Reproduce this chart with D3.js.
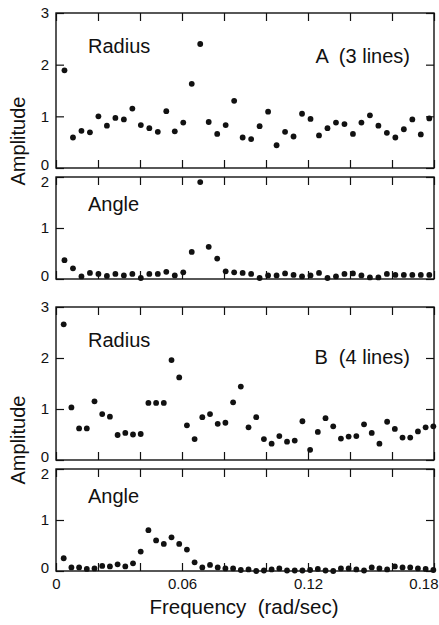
<!DOCTYPE html>
<html>
<head>
<meta charset="utf-8">
<script src="https://cdn.jsdelivr.net/npm/d3@7"></script>
<style>
  html, body { margin: 0; padding: 0; background: #fff; }
  svg { display: block; font-family: "Liberation Sans", Arial, Helvetica, sans-serif; }
  .tick text { font-size: 15px; fill: #111; }
  .tick line { stroke: #111; stroke-width: 1.2; }
</style>
</head>
<body>
<svg id="chart" width="439" height="625"></svg>
<script>
  "use strict";

  // ---- data ----
  // Frequency bin spacing (rad/sec) for each record
  const STEP_A = 0.00404;
  const STEP_B = 0.003667;

  const radiusA = [1.89, 0.59, 0.72, 0.69, 1.0, 0.82, 0.97, 0.94, 1.15, 0.83, 0.77,
    0.70, 1.10, 0.71, 0.88, 1.63, 2.40, 0.89, 0.66, 0.83, 1.30, 0.59, 0.56, 0.81,
    1.09, 0.44, 0.70, 0.61, 1.05, 0.95, 0.63, 0.77, 0.88, 0.85, 0.66, 0.88, 1.02,
    0.82, 0.68, 0.59, 0.75, 0.94, 0.65, 0.96];

  const angleA = [0.37, 0.21, 0.05, 0.12, 0.10, 0.06, 0.10, 0.07, 0.10, 0.02, 0.10,
    0.10, 0.14, 0.07, 0.13, 0.53, 1.90, 0.63, 0.40, 0.15, 0.13, 0.12, 0.10, 0.02,
    0.07, 0.07, 0.11, 0.08, 0.05, 0.07, 0.12, 0.02, 0.05, 0.10, 0.11, 0.07, 0.03,
    0.03, 0.10, 0.08, 0.08, 0.08, 0.08, 0.08];

  const radiusB = [2.66, 1.03, 0.62, 0.62, 1.15, 0.90, 0.85, 0.49, 0.53, 0.50, 0.51,
    1.12, 1.12, 1.12, 1.96, 1.62, 0.68, 0.41, 0.84, 0.90, 0.71, 0.73, 1.13, 1.44,
    0.64, 0.84, 0.41, 0.32, 0.47, 0.36, 0.38, 0.76, 0.20, 0.55, 0.82, 0.66, 0.42,
    0.46, 0.47, 0.70, 0.53, 0.32, 0.75, 0.61, 0.44, 0.44, 0.56, 0.64, 0.66];

  const angleB = [0.25, 0.07, 0.07, 0.04, 0.05, 0.10, 0.09, 0.13, 0.09, 0.15, 0.38,
    0.80, 0.60, 0.53, 0.66, 0.53, 0.42, 0.17, 0.07, 0.12, 0.07, 0.05, 0.05, 0.02,
    0.03, 0.00, 0.01, 0.03, 0.05, 0.01, 0.01, 0.01, 0.02, 0.04, 0.01, 0.00, 0.05,
    0.05, 0.03, 0.01, 0.07, 0.05, 0.03, 0.09, 0.07, 0.07, 0.05, 0.04, 0.02];

  const xTicks = [0, 0.02, 0.04, 0.06, 0.08, 0.10, 0.12, 0.14, 0.16, 0.18];
  const xLabelled = [0, 0.06, 0.12, 0.18];

  // ---- layout ----
  const X0 = 56, X1 = 434;
  const TICK = 8;

  const panels = [
    { values: radiusA, step: STEP_A, ymax: 3, top: 13, bottom: 168, name: "Radius", nameY: 53, tag: "A  (3 lines)", tagY: 63 },
    { values: angleA, step: STEP_A, ymax: 2, top: 177, bottom: 279, name: "Angle", nameY: 211 },
    { values: radiusB, step: STEP_B, ymax: 3, top: 307, bottom: 460, name: "Radius", nameY: 347, tag: "B  (4 lines)", tagY: 364 },
    { values: angleB, step: STEP_B, ymax: 2, top: 469, bottom: 571, name: "Angle", nameY: 503, xLabels: true }
  ];

  const svg = d3.select("#chart");
  const x = d3.scaleLinear().domain([0, 0.18]).range([X0, X1]);

  function fmtX(v) {
    const hit = xLabelled.find((l) => Math.abs(l - v) < 1e-9);
    if (hit === undefined) return "";
    return hit === 0 ? "0" : hit.toFixed(2);
  }

  panels.forEach((p) => {
    const y = d3.scaleLinear().domain([0, p.ymax]).range([p.bottom, p.top]);
    const yTicks = d3.range(0, p.ymax + 1);
    const g = svg.append("g");

    // inward ticks on all four sides
    g.append("g")
      .attr("transform", `translate(0,${p.top})`)
      .call(d3.axisTop(x).tickValues(xTicks).tickSizeInner(-TICK).tickSizeOuter(0).tickFormat(""))
      .call((a) => a.select(".domain").remove());

    const bottom = g.append("g")
      .attr("transform", `translate(0,${p.bottom})`)
      .call(d3.axisBottom(x).tickValues(xTicks).tickSizeInner(-TICK).tickSizeOuter(0)
        .tickPadding(7).tickFormat(p.xLabels ? fmtX : () => ""))
      .call((a) => a.select(".domain").remove());
    // last label sits flush against the right edge, as in the original
    bottom.selectAll(".tick text")
      .filter((d) => Math.abs(d - 0.18) < 1e-9)
      .attr("text-anchor", "end")
      .attr("x", 4);

    const left = g.append("g")
      .attr("transform", `translate(${X0},0)`)
      .call(d3.axisLeft(y).tickValues(yTicks).tickSizeInner(-TICK).tickSizeOuter(0)
        .tickPadding(7).tickFormat(d3.format("d")))
      .call((a) => a.select(".domain").remove());
    // nudge end labels apart where two panels meet
    left.selectAll(".tick text")
      .attr("dy", (d) => (d === p.ymax && p.ymax === 2 ? "0.62em" : d === 0 ? "0.1em" : "0.32em"));

    g.append("g")
      .attr("transform", `translate(${X1},0)`)
      .call(d3.axisRight(y).tickValues(yTicks).tickSizeInner(-TICK).tickSizeOuter(0).tickFormat(""))
      .call((a) => a.select(".domain").remove());

    // frame
    g.append("rect")
      .attr("x", X0).attr("y", p.top)
      .attr("width", X1 - X0).attr("height", p.bottom - p.top)
      .attr("fill", "none").attr("stroke", "#111").attr("stroke-width", 1.4);

    // points
    g.append("g")
      .selectAll("circle")
      .data(p.values)
      .join("circle")
      .attr("cx", (d, i) => x((i + 1) * p.step))
      .attr("cy", (d) => y(d))
      .attr("r", 2.9)
      .attr("fill", "#111");

    g.append("text")
      .attr("x", 88).attr("y", p.nameY)
      .attr("font-size", 20).attr("fill", "#111")
      .text(p.name);

    if (p.tag) {
      g.append("text")
        .attr("x", 410).attr("y", p.tagY)
        .attr("text-anchor", "end")
        .attr("font-size", 20).attr("fill", "#111")
        .style("white-space", "pre")
        .text(p.tag);
    }
  });

  // axis titles
  [141, 440].forEach((cy) => {
    svg.append("text")
      .attr("transform", `translate(25,${cy}) rotate(-90)`)
      .attr("text-anchor", "middle")
      .attr("font-size", 20).attr("fill", "#111")
      .text("Amplitude");
  });

  svg.append("text")
    .attr("x", 244).attr("y", 614)
    .attr("text-anchor", "middle")
    .attr("font-size", 20.5).attr("fill", "#111")
    .style("white-space", "pre")
    .text("Frequency  (rad/sec)");
</script>
</body>
</html>
